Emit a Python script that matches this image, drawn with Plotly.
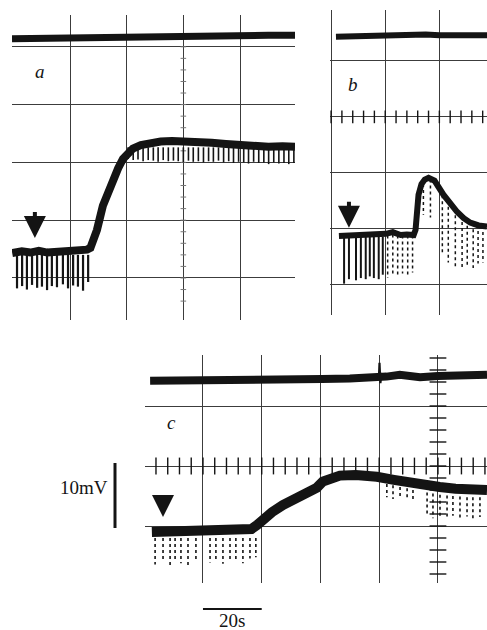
import numpy as np
import plotly.graph_objects as go

W, H = 487, 630
INK = "#141414"
GRID = "#3c3c3c"
SERIF = "Liberation Serif"

# ---------------- Panel a (t in s, V in mV) ----------------
a_top_t = [-0.47, 10, 20, 30, 40, 50, 60, 70, 80, 90, 99.4]
a_top_v = [51.4, 51.5, 51.4, 51.6, 51.6, 51.7, 51.8, 51.8, 51.9, 52.0, 52.0]

a_t = [-0.4, 3, 6, 9, 12, 15, 18, 21, 24, 26, 27.2, 28.5, 29.5, 31.6, 33.5,
       35.2, 37.0, 38.7, 40.5, 42.2, 45, 48.2, 52, 56, 59.9, 65, 70, 75, 80, 85,
       90, 95, 99.4]
a_v = [14.3, 14.6, 14.4, 14.7, 14.4, 14.5, 14.3, 14.5, 14.7, 14.9, 15.2, 16.8,
       18.3, 22.5, 25.0, 27.0, 29.0, 30.6, 31.8, 32.4, 33.0, 33.4, 33.6, 33.7,
       33.7, 33.6, 33.4, 33.2, 33.0, 32.8, 32.7, 32.8, 32.7]

a_base_spk_t = [1.3, 3.1, 4.8, 6.6, 8.4, 10.1, 11.9, 13.6, 15.4, 17.5, 19.3,
                21.1, 22.8, 24.6, 26.4]
a_base_spk_top = 14.0
a_base_spk_bot = [8.2, 8.6, 8.0, 8.8, 8.3, 8.5, 7.9, 8.6, 8.4, 8.9, 8.2, 8.7,
                  8.5, 7.8, 9.3]

a_plat_spk_t = [40.5, 42.3, 44.0, 45.8, 47.6, 49.4, 51.1, 52.9, 54.7, 56.5,
                58.2, 60.0, 61.8, 63.5, 65.3, 67.1, 68.9, 70.6, 72.4, 74.2,
                76.0, 77.7, 79.5, 81.3, 83.0, 84.8, 86.6, 88.4, 90.1, 91.9,
                93.7, 95.5, 97.2, 99.0]
a_plat_spk_top = 32.6
a_plat_spk_bot = [30.6, 30.4, 30.5, 30.2, 30.4, 30.3, 30.1, 30.4, 30.2, 30.3,
                  30.2, 30.0, 30.3, 30.1, 30.2, 30.0, 30.2, 30.1, 30.3, 30.0,
                  30.2, 29.9, 30.1, 30.0, 29.8, 30.1, 29.9, 30.0, 29.7, 30.0,
                  29.8, 29.9, 29.7, 29.9]

# ---------------- Panel b ----------------
b_top_t = [1.8, 10, 20, 25, 30, 35, 40, 45, 50, 57.6]
b_top_v = [54.3, 54.4, 54.5, 54.8, 54.8, 54.7, 54.6, 54.6, 54.6, 54.6]

b_t = [2.9, 8, 14, 20.2, 22.8, 25.7, 28, 30.5, 31.2, 32.3, 33.4, 34.6, 36.0,
       38.2, 41.5, 44, 46.6, 49, 51.4, 54.5, 57.6]
b_v = [18.7, 18.8, 18.9, 19.1, 19.4, 18.9, 19.0, 18.9, 19.8, 26.1, 28.0, 28.8,
       29.1, 28.6, 26.1, 24.4, 23.0, 21.9, 21.1, 20.6, 20.4]

b_base_spk_t = [4.8, 6.6, 9.2, 11.0, 12.8, 14.3, 15.8, 17.6, 19.1]
b_base_spk_bot = [10.2, 11.0, 10.8, 11.2, 11.0, 11.5, 11.2, 11.0, 11.8]
b_base_spk_top = 18.6
b_dot_spk_t = [20.9, 22.8, 24.6, 26.4, 28.3, 30.1, 34.1, 36.7, 41.1, 43.3,
               45.9, 48.4, 50.3, 52.5, 54.3, 56.1]
b_dot_spk_top = [18.8, 19.0, 18.8, 18.8, 18.8, 18.8, 28.0, 28.8, 26.0, 25.0,
                 23.5, 22.3, 21.6, 21.0, 20.7, 20.5]
b_dot_spk_bot = [11.2, 11.5, 11.8, 12.0, 11.8, 12.2, 22.5, 22.0, 15.5, 14.0,
                 13.0, 13.0, 13.5, 13.0, 13.8, 14.0]

# ---------------- Panel c ----------------
c_top_t = [2.0, 10, 20, 30, 40.4, 50, 60.5, 70, 79.8, 82.5, 87, 93.9, 100,
           108, 116.7]
c_top_v = [34.2, 34.2, 34.25, 34.2, 34.3, 34.4, 34.5, 34.6, 34.7, 34.9, 35.2,
           34.8, 35.0, 35.0, 35.2]
c_blip_t = [79.9, 80.1, 80.4, 80.8, 81.6]
c_blip_v = [34.7, 37.2, 33.8, 35.3, 35.0]

c_t = [2.6, 8, 14, 20, 26, 30, 34, 36.5, 38.5, 40.5, 43.5, 47.2, 52, 56,
       58.8, 60.8, 63.5, 66.6, 72, 76, 79.2, 85, 90.4, 95, 100.6, 106, 111,
       116.7]
c_v = [9.0, 9.1, 9.0, 9.2, 9.1, 9.4, 9.3, 9.5, 10.2, 11.2, 12.3, 13.5, 14.6,
       15.6, 16.4, 17.4, 18.0, 18.4, 18.5, 18.4, 18.2, 17.7, 17.2, 16.8, 16.5,
       16.2, 16.0, 16.0]

c_base_spk_t = [3.7, 6.4, 8.8, 10.5, 12.5, 14.9, 17.6, 22.4, 24.4, 26.8, 29.2,
                31.2, 33.6, 36.0, 38.0]
c_base_spk_bot = [3.6, 4.0, 3.4, 4.3, 3.8, 3.5, 4.2, 3.9, 4.4, 3.7, 4.0, 4.5,
                  3.8, 4.6, 4.8]
c_base_spk_top = 8.0
c_dec_spk_t = [82.6, 84.7, 87.1, 89.5, 91.5, 96.3, 98.3, 100.7, 103.1, 105.1,
               107.5, 109.9, 111.9, 114.3]
c_dec_spk_top = [17.0, 16.8, 16.5, 16.3, 16.0, 15.6, 15.4, 15.2, 15.1, 15.0,
                 14.9, 14.8, 14.8, 14.8]
c_dec_spk_bot = [14.8, 14.5, 14.9, 14.6, 14.3, 11.8, 11.3, 11.6, 11.4, 11.7,
                 11.3, 11.6, 11.2, 11.5]

# ---------------- layout geometry (pixels) ----------------
def xd(p0, p1):
    return [p0 / W, p1 / W]


def yd(top, bot):
    return [1 - bot / H, 1 - top / H]


fig = go.Figure()


def segs(ts, tops, bots):
    xs, ys = [], []
    if not isinstance(tops, (list, tuple)):
        tops = [tops] * len(ts)
    for t, a, b in zip(ts, tops, bots):
        xs += [t, t, None]
        ys += [a, b, None]
    return xs, ys


def line(x, y, ax, width, color=INK, dash="solid"):
    xa, ya = ax
    fig.add_trace(go.Scatter(x=x, y=y, mode="lines", xaxis=xa, yaxis=ya,
                             line=dict(color=color, width=width, dash=dash),
                             hoverinfo="skip", showlegend=False))


def ticks(x, y, ax, symbol, size, color=INK, width=1.4):
    xa, ya = ax
    fig.add_trace(go.Scatter(x=x, y=y, mode="markers", xaxis=xa, yaxis=ya,
                             marker=dict(symbol=symbol, size=size,
                                         line=dict(color=color, width=width)),
                             hoverinfo="skip", showlegend=False))


A = ("x", "y")
B = ("x2", "y2")
C = ("x3", "y3")

# graticule ticks
bt = np.arange(0, 57.6, 4.0)
ticks(bt, [40] * len(bt), B, "line-ns", 9)
ct = np.arange(4, 116.7, 4.0)
ticks(ct, [20] * len(ct), C, "line-ns", 12)
cv = np.arange(2, 38.5, 2.0)
ticks([100] * len(cv), cv, C, "line-ew", 12)
av = np.arange(6, 52, 2.0)
ticks([60] * len(av), av, A, "line-ew", 4, color="#777", width=1)

# spikes
x_, y_ = segs(a_base_spk_t, a_base_spk_top, a_base_spk_bot)
line(x_, y_, A, 2.2)
x_, y_ = segs(a_plat_spk_t, a_plat_spk_top, a_plat_spk_bot)
line(x_, y_, A, 1.6)
x_, y_ = segs(b_base_spk_t, b_base_spk_top, b_base_spk_bot)
line(x_, y_, B, 2.0)
x_, y_ = segs(b_dot_spk_t, b_dot_spk_top, b_dot_spk_bot)
line(x_, y_, B, 1.5, dash="dot")
x_, y_ = segs(c_base_spk_t, c_base_spk_top, c_base_spk_bot)
line(x_, y_, C, 1.6, dash="dot")
x_, y_ = segs(c_dec_spk_t, c_dec_spk_top, c_dec_spk_bot)
line(x_, y_, C, 1.6, dash="dot")

# traces
line(a_top_t, a_top_v, A, 7)
line(a_t, a_v, A, 8)
line(b_top_t, b_top_v, B, 6)
line(b_t, b_v, B, 6)
line(c_top_t, c_top_v, C, 8)
line(c_blip_t, c_blip_v, C, 2.2)
line(c_t, c_v, C, 10)

axis_common = dict(showgrid=True, gridcolor=GRID, gridwidth=1, zeroline=False,
                   showticklabels=False, ticks="", showline=False,
                   tickmode="array", fixedrange=True)

fig.update_layout(
    width=W, height=H, margin=dict(l=0, r=0, t=0, b=0),
    paper_bgcolor="white", plot_bgcolor="white", showlegend=False,
    xaxis=dict(domain=xd(12, 295), range=[-0.47, 99.4],
               tickvals=[20, 40, 60, 80], anchor="y", **axis_common),
    yaxis=dict(domain=yd(15, 320), range=[2.73, 55.5],
               tickvals=[10, 20, 30, 40, 50], anchor="x", **axis_common),
    xaxis2=dict(domain=xd(330, 487), range=[-0.4, 57.6],
                tickvals=[0, 20, 40], anchor="y2", **axis_common),
    yaxis2=dict(domain=yd(10, 315), range=[4.6, 59.1],
                tickvals=[10, 20, 30, 40, 50], anchor="x2", **axis_common),
    xaxis3=dict(domain=xd(145, 487), range=[0.26, 116.7],
                tickvals=[20, 40, 60, 80, 100], anchor="y3", **axis_common),
    yaxis3=dict(domain=yd(355, 583), range=[0.5, 38.5],
                tickvals=[10, 20, 30], anchor="x3", **axis_common),
)

ann = []
for xr, yr, tx, ty, length in [("x", "y", 7.6, 16.9, 27),
                               ("x2", "y2", 6.6, 20.2, 27),
                               ("x3", "y3", 6.4, 11.5, 23)]:
    ann.append(dict(x=tx, y=ty, xref=xr, yref=yr, text=" ", showarrow=True,
                    ax=0, ay=-length, arrowhead=2, arrowsize=1.1,
                    arrowwidth=4, arrowcolor=INK, borderpad=0,
                    font=dict(size=1)))
for xr, yr, tx, ty, s in [("x", "y", 9.4, 45.7, "a"),
                          ("x2", "y2", 8.1, 45.7, "b"),
                          ("x3", "y3", 9.4, 27.3, "c")]:
    ann.append(dict(x=tx, y=ty, xref=xr, yref=yr, text="<i>%s</i>" % s,
                    showarrow=False, font=dict(family=SERIF, size=19,
                                               color=INK)))
ann.append(dict(x=110 / W, y=1 - 487 / H, xref="paper", yref="paper",
                text="10mV", showarrow=False, xanchor="right",
                yanchor="middle",
                font=dict(family=SERIF, size=19, color=INK)))
ann.append(dict(x=30, y=1 - 620 / H, xref="x3", yref="paper", text="20s",
                showarrow=False, xanchor="center", yanchor="middle",
                font=dict(family=SERIF, size=19, color=INK)))
fig.update_layout(annotations=ann)

fig.add_shape(type="line", xref="paper", yref="paper", x0=115 / W,
              x1=115 / W, y0=1 - 463 / H, y1=1 - 528 / H,
              line=dict(color=INK, width=3))
fig.add_shape(type="line", xref="x3", yref="paper", x0=20, x1=40,
              y0=1 - 609 / H, y1=1 - 609 / H,
              line=dict(color=INK, width=2))

fig.write_html("out.html", config={"displayModeBar": False},
               post_script="document.body.style.margin='0px';"
                           "document.body.style.overflow='hidden';")
